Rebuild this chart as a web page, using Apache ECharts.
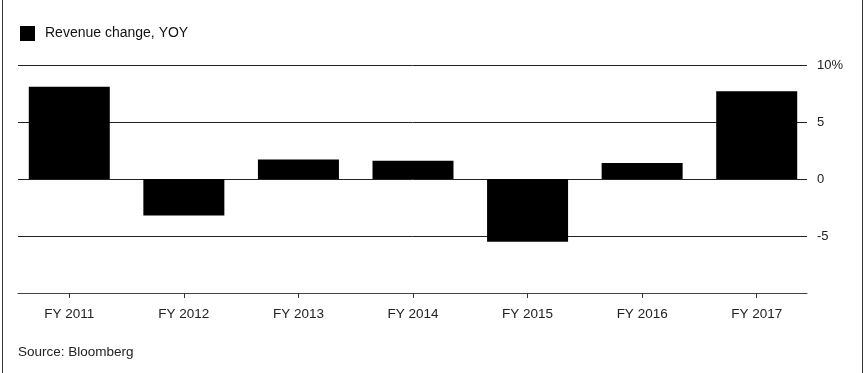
<!DOCTYPE html>
<html><head><meta charset="utf-8">
<script src="https://cdn.jsdelivr.net/npm/echarts@6/dist/echarts.min.js"></script>
<style>html,body{margin:0;padding:0;background:#fff}#c{width:867px;height:373px}</style>
</head><body><div id="c"></div>
<script>
const categories = ['FY 2011','FY 2012','FY 2013','FY 2014','FY 2015','FY 2016','FY 2017'];
const revenueChange = [8.1, -3.2, 1.7, 1.6, -5.5, 1.4, 7.7];
const yTicks = [-10, -5, 0, 5, 10];
const font = 'Liberation Sans, Arial, sans-serif';
const chart = echarts.init(document.getElementById('c'));
chart.setOption({
  animation: false,
  textStyle: {fontFamily: font},
  grid: [
    {left: 12, right: 53, top: 65, bottom: 80},
    {left: 18, right: 60, top: 65, bottom: 80}
  ],
  legend: {
    left: 15, top: 21, itemWidth: 15, itemHeight: 15, itemGap: 10,
    icon: 'rect',
    textStyle: {fontSize: 14, color: '#111', fontFamily: font, padding: [0, 0, 0, 5]},
    data: ['Revenue change, YOY']
  },
  xAxis: [
    {type: 'category', gridIndex: 0, data: categories, position: 'bottom',
     axisLine: {show: false, onZero: false},
     axisTick: {show: true, alignWithLabel: true, length: 5, lineStyle: {color: '#333'}},
     axisLabel: {fontSize: 13.5, color: '#222', margin: 14, fontFamily: font}},
    {type: 'value', gridIndex: 1, min: 0, max: 1, show: true, position: 'bottom',
     axisLine: {show: true, onZero: false, lineStyle: {color: '#444', width: 1}},
     axisTick: {show: false}, axisLabel: {show: false}, splitLine: {show: false}}
  ],
  yAxis: [
    {type: 'value', gridIndex: 0, min: yTicks[0], max: yTicks[yTicks.length-1], interval: 5, show: false},
    {type: 'value', gridIndex: 1, position: 'right', min: yTicks[0], max: yTicks[yTicks.length-1], interval: 5,
     axisLine: {show: false}, axisTick: {show: false},
     axisLabel: {fontSize: 13, color: '#222', margin: 10, fontFamily: font,
       formatter: v => v === 10 ? '10%' : (v === -10 ? '' : String(v))},
     splitLine: {lineStyle: {color: '#222', width: 1}}}
  ],
  graphic: [
    {type: 'line', shape: {x1: 2.5, y1: 0, x2: 2.5, y2: 373}, style: {stroke: '#333', lineWidth: 1}},
    {type: 'line', shape: {x1: 862.5, y1: 0, x2: 862.5, y2: 373}, style: {stroke: '#333', lineWidth: 1}},
    {type: 'text', left: 18, top: 345, style: {text: 'Source: Bloomberg', fontSize: 13.5, fill: '#222', fontFamily: font}}
  ],
  series: [
    {name: 'Revenue change, YOY', type: 'bar', xAxisIndex: 0, yAxisIndex: 0,
     data: revenueChange, barWidth: 81, itemStyle: {color: '#000'}}
  ]
});
</script></body></html>
